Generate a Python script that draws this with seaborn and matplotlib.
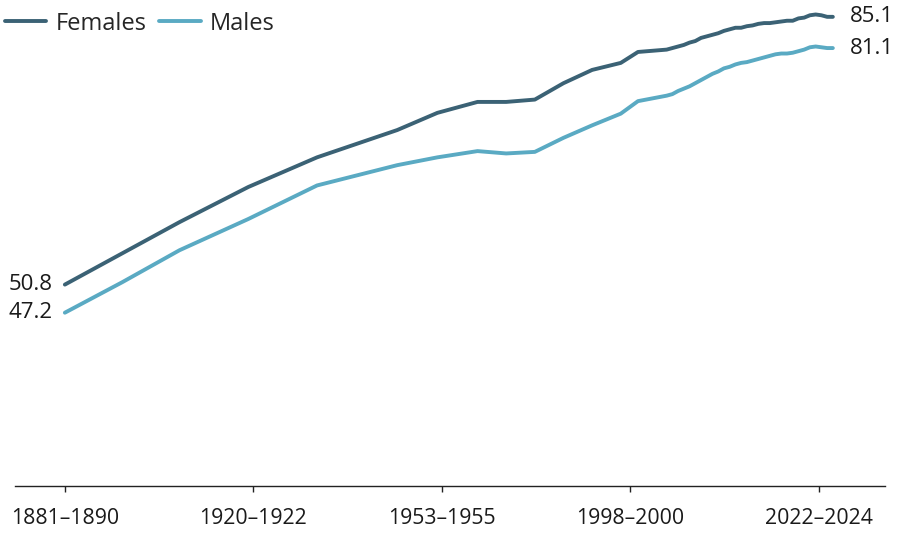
import numpy as np
import pandas as pd
import matplotlib.pyplot as plt
import seaborn as sns

# life expectancy at birth by period (years)
periods = ['1881–1890', '1891–1900', '1901–1910', '1920–1922', '1932–1934',
           '1946–1948', '1953–1955', '1960–1962', '1965–1967', '1970–1972',
           '1975–1977', '1980–1982', '1985–1987', '1988–1990',
           '1993–1995', '1994–1996', '1995–1997', '1996–1998', '1997–1999',
           '1998–2000', '1999–2001', '2000–2002', '2001–2003', '2002–2004',
           '2003–2005', '2004–2006', '2005–2007', '2006–2008', '2007–2009',
           '2008–2010', '2009–2011', '2010–2012', '2011–2013', '2012–2014',
           '2013–2015', '2014–2016', '2015–2017', '2016–2018', '2017–2019',
           '2018–2020', '2019–2021', '2020–2022', '2021–2023', '2022–2024']

females = [50.8, 54.8, 58.8, 63.3, 67.1, 70.6, 72.8, 74.2, 74.2, 74.5,
           76.6, 78.3, 79.2, 80.6,
           80.9, 81.1, 81.3, 81.5, 81.8, 82.0, 82.4, 82.6, 82.8, 83.0,
           83.3, 83.5, 83.7, 83.7, 83.9, 84.0, 84.2, 84.3, 84.3, 84.4,
           84.5, 84.6, 84.6, 84.9, 85.0, 85.3, 85.4, 85.3, 85.1, 85.1]

males = [47.2, 51.1, 55.2, 59.2, 63.5, 66.1, 67.1, 67.9, 67.6, 67.8,
         69.6, 71.2, 72.7, 74.3,
         75.0, 75.2, 75.6, 75.9, 76.2, 76.6, 77.0, 77.4, 77.8, 78.1,
         78.5, 78.7, 79.0, 79.2, 79.3, 79.5, 79.7, 79.9, 80.1, 80.3,
         80.4, 80.4, 80.5, 80.7, 80.9, 81.2, 81.3, 81.2, 81.1, 81.1]

tick_labels = ['1881–1890', '1920–1922', '1953–1955', '1998–2000', '2022–2024']

colors = {'Females': '#3b6275', 'Males': '#5aaac3'}

# x position = last year of the period
end_year = [int(p[-4:]) for p in periods]

df = pd.DataFrame({'year': end_year * 2,
                   'value': females + males,
                   'sex': ['Females'] * len(periods) + ['Males'] * len(periods)})

sns.set_theme(style='white')
plt.rcParams['font.family'] = ['Open Sans', 'DejaVu Sans']

fig = plt.figure(figsize=(9, 5.41), dpi=100)
ax = fig.add_axes([15 / 900, 55 / 541, 870 / 900, 484 / 541])

sns.lineplot(data=df, x='year', y='value', hue='sex', palette=colors,
             linewidth=2.8, solid_capstyle='round', ax=ax)

ax.set_xlim(1881.3, 2033.1)
ax.set_ylim(25, 87)
ax.set_xlabel('')
ax.set_ylabel('')
ax.set_yticks([])

ax.set_xticks(np.linspace(end_year[0], 2021.5, len(tick_labels)))
ax.set_xticklabels(tick_labels, fontsize=15.3, color='#1a1a1a')
ax.tick_params(axis='x', bottom=True, direction='out', length=4.5, width=1,
               color='#222222', pad=11)

for side in ['left', 'top', 'right']:
    ax.spines[side].set_visible(False)
ax.spines['bottom'].set_color('#222222')
ax.spines['bottom'].set_linewidth(1)

# value labels at both ends
for vals in [females, males]:
    ax.annotate(f'{vals[-1]:.1f}', xy=(end_year[-1], vals[-1]), xytext=(12, 0),
                textcoords='offset points', ha='left', va='center',
                fontsize=16, color='#1a1a1a')
    ax.annotate(f'{vals[0]:.1f}', xy=(end_year[0], vals[0]), xytext=(-9, 0),
                textcoords='offset points', ha='right', va='center',
                fontsize=16, color='#1a1a1a')

ax.legend(loc='upper left', bbox_to_anchor=(0.0, 0.987),
          bbox_transform=fig.transFigure, ncol=2, frameon=False,
          fontsize=17, handlelength=1.75, handletextpad=0.4,
          columnspacing=0.55, borderpad=0.2, borderaxespad=0.0,
          title=None)

plt.savefig('out.png', dpi=100)
plt.close()
